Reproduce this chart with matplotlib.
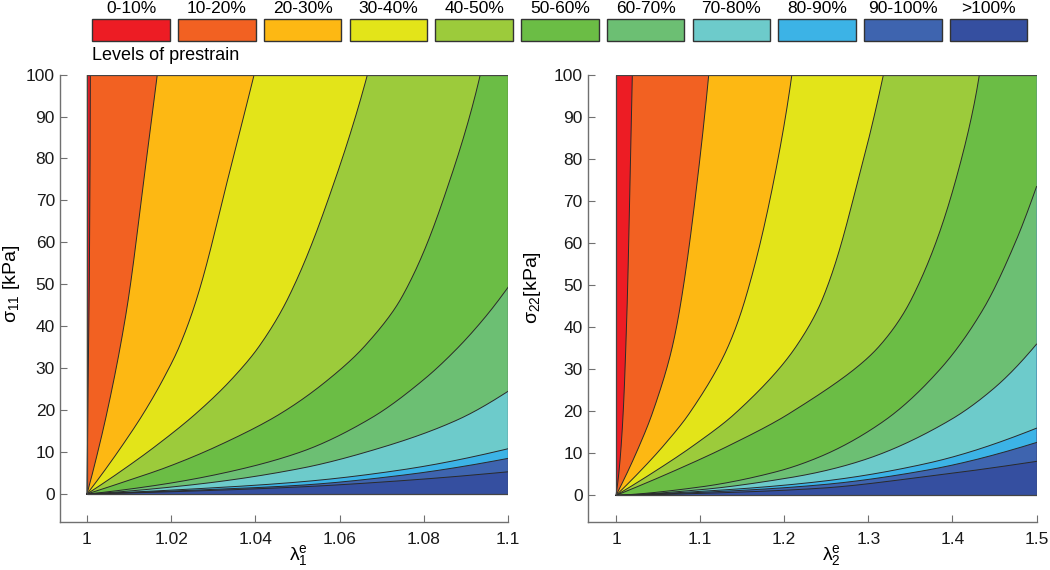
import numpy as np
import matplotlib
matplotlib.use("Agg")
import matplotlib.pyplot as plt
from matplotlib.patches import Rectangle

plt.rcParams['font.family'] = ['Liberation Sans', 'DejaVu Sans']
plt.rcParams['mathtext.fontset'] = 'custom'
plt.rcParams['mathtext.rm'] = 'Liberation Sans'
plt.rcParams['mathtext.it'] = 'Liberation Sans'
plt.rcParams['mathtext.bf'] = 'Liberation Sans:bold'

# ---------------- data ----------------
level_labels = ['0-10%', '10-20%', '20-30%', '30-40%', '40-50%', '50-60%',
                '60-70%', '70-80%', '80-90%', '90-100%', '>100%']
level_colors = ['#ED1C24', '#F26122', '#FDB813', '#E3E419', '#9CCB3B', '#6BBD45',
                '#6CBF73', '#6DCBCB', '#3CB3E6', '#3E64AF', '#354FA0']

# boundaries between consecutive prestrain levels, left panel (lambda_1^e, sigma_11)
left_lam = [
    [1.0, 1.0002, 1.00055, 1.0008],
    [1.0, 1.0019, 1.0047, 1.0079, 1.0099, 1.0135, 1.0167],
    [1.0, 1.0036, 1.0082, 1.0134, 1.0180, 1.0219, 1.0262, 1.0334, 1.0397],
    [1.0, 1.0080, 1.0160, 1.0259, 1.0342, 1.0408, 1.0479, 1.0589, 1.0666],
    [1.0, 1.0088, 1.0187, 1.0307, 1.0460, 1.0572, 1.0658, 1.0748, 1.0862, 1.0934],
    [1.0, 1.0166, 1.0324, 1.0507, 1.0673, 1.0800, 1.0878, 1.0945, 1.1],
    [1.0, 1.0250, 1.0507, 1.0700, 1.0878, 1.1],
    [1.0, 1.0250, 1.0507, 1.0750, 1.1],
    [1.0, 1.0250, 1.0507, 1.0750, 1.1],
    [1.0, 1.0250, 1.0507, 1.0750, 1.1],
]
left_sig = [
    [0, 20, 50, 100],
    [0, 7.3, 19.2, 35.1, 47.0, 74.9, 100],
    [0, 4.8, 11.3, 19.2, 27.2, 35.1, 47.0, 74.9, 100],
    [0, 5.4, 11.2, 19.2, 27.2, 35.1, 47.0, 74.9, 100],
    [0, 2.9, 6.3, 11.3, 19.2, 27.2, 35.1, 47.0, 74.9, 100],
    [0, 2.1, 5.0, 10.0, 18.0, 27.3, 34.6, 42.1, 49.3],
    [0, 2.2, 6.1, 11.1, 17.6, 24.5],
    [0, 1.2, 2.9, 5.8, 10.8],
    [0, 0.9, 2.1, 4.5, 8.5],
    [0, 0.7, 1.7, 3.2, 5.3],
]

# right panel (lambda_2^e, sigma_22)
right_lam = [
    [1.0, 1.0032, 1.0062, 1.0091, 1.0116, 1.0135, 1.0167, 1.0194],
    [1.0, 1.0273, 1.0431, 1.0670, 1.0780, 1.0968, 1.1102],
    [1.0, 1.0265, 1.0555, 1.0871, 1.1332, 1.1541, 1.1878, 1.2090],
    [1.0, 1.0429, 1.0902, 1.1416, 1.2140, 1.2460, 1.2880, 1.3178],
    [1.0, 1.0631, 1.1318, 1.2061, 1.3125, 1.3520, 1.4040, 1.4319],
    [1.0, 1.1000, 1.1900, 1.2425, 1.3178, 1.3852, 1.4365, 1.4743, 1.5],
    [1.0, 1.1000, 1.2000, 1.2425, 1.3000, 1.3970, 1.4500, 1.5],
    [1.0, 1.1200, 1.2425, 1.3693, 1.5],
    [1.0, 1.1200, 1.2425, 1.3693, 1.5],
    [1.0, 1.1200, 1.2425, 1.3693, 1.5],
]
right_sig = [
    [0, 5, 12, 22, 35, 47, 75, 100],
    [0, 11.6, 19.5, 35.4, 47, 75.1, 100],
    [0, 5.3, 11.6, 19.5, 35.4, 47, 75.1, 100],
    [0, 5.3, 11.6, 19.5, 35.4, 47, 75.1, 100],
    [0, 5.3, 11.6, 19.5, 35.4, 47, 75.1, 100],
    [0, 2.0, 5.6, 9.2, 17.6, 30.0, 44.3, 60.0, 73.5],
    [0, 1.35, 4.0, 5.6, 8.8, 17.9, 25.6, 36.0],
    [0, 1.2, 3.3, 7.6, 16.0],
    [0, 0.9, 2.5, 6.0, 12.6],
    [0, 0.6, 1.7, 4.5, 8.1],
]

left_xticks = [1, 1.02, 1.04, 1.06, 1.08, 1.1]
left_xticklabels = ['1', '1.02', '1.04', '1.06', '1.08', '1.1']
right_xticks = [1, 1.1, 1.2, 1.3, 1.4, 1.5]
right_xticklabels = ['1', '1.1', '1.2', '1.3', '1.4', '1.5']
yticks = [0, 10, 20, 30, 40, 50, 60, 70, 80, 90, 100]


def pchip(xk, yk, xq):
    """Monotone piecewise-cubic Hermite interpolation (Fritsch-Carlson)."""
    xk = np.asarray(xk, float)
    yk = np.asarray(yk, float)
    h = np.diff(xk)
    d = np.diff(yk) / h
    n = len(xk)
    m = np.zeros(n)
    for i in range(1, n - 1):
        if d[i - 1] * d[i] > 0:
            w1 = 2 * h[i] + h[i - 1]
            w2 = h[i] + 2 * h[i - 1]
            m[i] = (w1 + w2) / (w1 / d[i - 1] + w2 / d[i])
    if n > 2:
        m0 = ((2 * h[0] + h[1]) * d[0] - h[0] * d[1]) / (h[0] + h[1])
        if np.sign(m0) != np.sign(d[0]):
            m0 = 0.0
        elif np.sign(d[0]) != np.sign(d[1]) and abs(m0) > abs(3 * d[0]):
            m0 = 3 * d[0]
        m[0] = m0
        mn = ((2 * h[-1] + h[-2]) * d[-1] - h[-1] * d[-2]) / (h[-1] + h[-2])
        if np.sign(mn) != np.sign(d[-1]):
            mn = 0.0
        elif np.sign(d[-1]) != np.sign(d[-2]) and abs(mn) > abs(3 * d[-1]):
            mn = 3 * d[-1]
        m[-1] = mn
    else:
        m[:] = d[0]
    idx = np.clip(np.searchsorted(xk, xq) - 1, 0, n - 2)
    t = (xq - xk[idx]) / h[idx]
    h00 = 2 * t ** 3 - 3 * t ** 2 + 1
    h10 = t ** 3 - 2 * t ** 2 + t
    h01 = -2 * t ** 3 + 3 * t ** 2
    h11 = t ** 3 - t ** 2
    return (h00 * yk[idx] + h10 * h[idx] * m[idx] + h01 * yk[idx + 1]
            + h11 * h[idx] * m[idx + 1])


def boundary_curve(lam, sig, lam_max, sig_max, n=400):
    lam = np.asarray(lam, float)
    sig = np.asarray(sig, float)
    if sig[-1] >= sig_max - 1e-9:     # leaves through the top edge: lambda(sigma)
        ys = np.linspace(0, sig_max, n)
        xs = pchip(sig, lam, ys)
    else:                              # leaves through the right edge: sigma(lambda)
        xs = np.linspace(1.0, lam_max, n)
        ys = pchip(lam, sig, xs)
    return np.clip(xs, 1.0, lam_max), np.clip(ys, 0, sig_max)


def draw_panel(ax, lam_b, sig_b, lam_max, sig_max=100.0):
    xr = lam_max - 1.0
    ax.add_patch(Rectangle((1.0, 0.0), xr, sig_max, facecolor=level_colors[-1],
                           edgecolor='none', zorder=1))
    curves = [boundary_curve(lx, sy, lam_max, sig_max) for lx, sy in zip(lam_b, sig_b)]
    for k in reversed(range(len(curves))):
        cx, cy = curves[k]
        if cy[-1] >= sig_max - 1e-9:
            px = np.concatenate([cx, [1.0]])
            py = np.concatenate([cy, [sig_max]])
        else:
            px = np.concatenate([cx, [lam_max, 1.0]])
            py = np.concatenate([cy, [sig_max, sig_max]])
        ax.fill(px, py, color=level_colors[k], lw=0, zorder=2)
    for cx, cy in curves:
        ax.plot(cx, cy, color='#2a2a2a', lw=0.7, zorder=3)
    ax.add_patch(Rectangle((1.0, 0.0), xr, sig_max, facecolor='none',
                           edgecolor='#444444', lw=0.9, zorder=4))


def style_axes(ax, xlim, ylim, xt, xtl):
    ax.set_xlim(*xlim)
    ax.set_ylim(*ylim)
    ax.set_xticks(xt)
    ax.set_xticklabels(xtl)
    ax.set_yticks(yticks)
    for s in ['top', 'right']:
        ax.spines[s].set_visible(False)
    for s in ['left', 'bottom']:
        ax.spines[s].set_color('#707070')
        ax.spines[s].set_linewidth(1.0)
    ax.tick_params(axis='both', direction='in', length=5, width=0.8,
                   color='#707070', labelsize=12.5, labelcolor='#1a1a1a')
    ax.tick_params(axis='x', pad=7.5)
    ax.tick_params(axis='y', pad=3.5)
    ax.set_facecolor('none')


fig = plt.figure(figsize=(10.5, 5.7), dpi=100)

axL = fig.add_axes([0.057, 0.0842, 0.4269, 0.785])
draw_panel(axL, left_lam, left_sig, 1.1)
style_axes(axL, (0.99356, 1.1), (-6.67, 100), left_xticks, left_xticklabels)

axR = fig.add_axes([0.5596, 0.0842, 0.4276, 0.7839])
draw_panel(axR, right_lam, right_sig, 1.5)
style_axes(axR, (0.9662, 1.5), (-6.33, 100), right_xticks, right_xticklabels)

# axis labels
fig.text(0.2838, 0.017, r'$\mathrm{\lambda}_1^e$', fontsize=14, ha='center', va='baseline')
fig.text(0.7914, 0.017, r'$\mathrm{\lambda}_2^e$', fontsize=14, ha='center', va='baseline')
fig.text(0.0105, 0.502, r'$\mathrm{\sigma}_{11}$ [kPa]', fontsize=14, rotation=90,
         ha='center', va='center')
fig.text(0.5067, 0.496, r'$\mathrm{\sigma}_{22}$[kPa]', fontsize=14, rotation=90,
         ha='center', va='center')

# legend of levels
box_left0 = 92.3
box_pitch = 85.75
box_w = 77.6
for i, (lab, col) in enumerate(zip(level_labels, level_colors)):
    x0 = (box_left0 + i * box_pitch) / 1050
    fig.patches.append(Rectangle((x0, 1 - 40.7 / 570), box_w / 1050, 21.7 / 570,
                                 transform=fig.transFigure, facecolor=col,
                                 edgecolor='#333333', lw=1.0))
    fig.text(x0 + box_w / 2100, 1 - 8.5 / 570, lab, fontsize=12.5, ha='center', va='center')
fig.text(92.3 / 1050, 1 - 59.5 / 570, 'Levels of prestrain', fontsize=13,
         ha='left', va='baseline')

fig.savefig('out.png', dpi=100)
